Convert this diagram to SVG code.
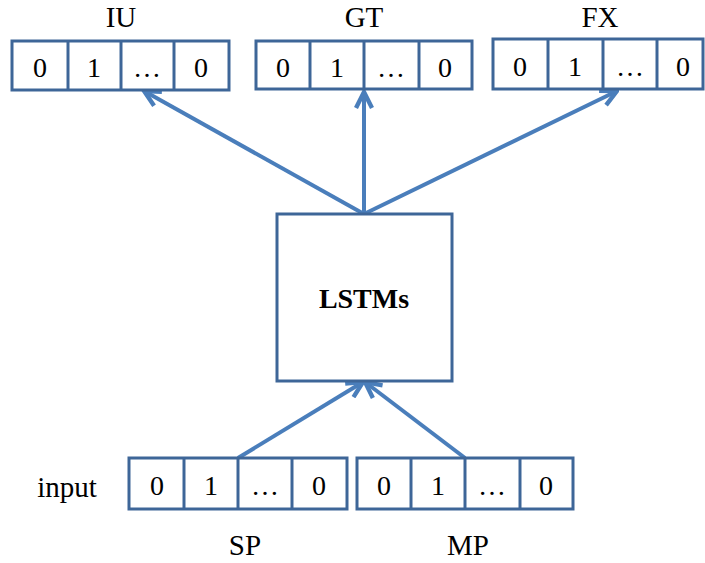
<svg xmlns="http://www.w3.org/2000/svg" width="705" height="563" viewBox="0 0 705 563">
<style>
.box{fill:#fff;stroke:#3e6698;stroke-width:3}
.div{stroke:#3e6698;stroke-width:3}
.t{font-family:"Liberation Serif","Times New Roman",serif;font-size:28px;fill:#000;text-anchor:middle}
.l{font-size:29px}
.c{stroke:#4a7ebb;stroke-width:4;fill:none;marker-end:url(#ah)}
</style>
<defs>
<marker id="ah" viewBox="0 0 10 10" refX="9" refY="5" markerWidth="5" markerHeight="5" orient="auto" markerUnits="strokeWidth">
<path d="M1,1 L9,5 L1,9" fill="none" stroke="#4a7ebb" stroke-width="2.2" stroke-linejoin="miter"/>
</marker>
</defs>
<rect width="705" height="563" fill="#fff"/>
<g id="connectors">
<line class="c" x1="364" y1="214" x2="144" y2="91"/>
<line class="c" x1="364" y1="214" x2="364" y2="92"/>
<line class="c" x1="364" y1="214" x2="617" y2="91"/>
<line class="c" x1="238" y1="458" x2="363" y2="382"/>
<line class="c" x1="465" y1="458" x2="365" y2="382"/>
</g>
<g id="IU">
<text class="t l" x="121" y="27">IU</text>
<rect class="box" x="12" y="41" width="217" height="49"/>
<line class="div" x1="68" y1="41" x2="68" y2="90"/>
<line class="div" x1="121" y1="41" x2="121" y2="90"/>
<line class="div" x1="174" y1="41" x2="174" y2="90"/>
<text class="t" x="40" y="77">0</text>
<text class="t" x="94" y="77">1</text>
<text class="t" x="147" y="77">…</text>
<text class="t" x="201" y="77">0</text>
</g>
<g id="GT">
<text class="t l" x="364" y="27">GT</text>
<rect class="box" x="256" y="41" width="216" height="48"/>
<line class="div" x1="310" y1="41" x2="310" y2="89"/>
<line class="div" x1="364" y1="41" x2="364" y2="89"/>
<line class="div" x1="419" y1="41" x2="419" y2="89"/>
<text class="t" x="283" y="77">0</text>
<text class="t" x="337" y="77">1</text>
<text class="t" x="391" y="77">…</text>
<text class="t" x="445" y="77">0</text>
</g>
<g id="FX">
<text class="t l" x="600" y="27">FX</text>
<rect class="box" x="493" y="39" width="210" height="50"/>
<line class="div" x1="548" y1="39" x2="548" y2="89"/>
<line class="div" x1="603" y1="39" x2="603" y2="89"/>
<line class="div" x1="657" y1="39" x2="657" y2="89"/>
<text class="t" x="520" y="76">0</text>
<text class="t" x="575" y="76">1</text>
<text class="t" x="630" y="76">…</text>
<text class="t" x="683" y="76">0</text>
</g>
<g id="LSTMs">
<rect class="box" x="277" y="214" width="175" height="167"/>
<text class="t" x="364" y="308" font-weight="bold">LSTMs</text>
</g>
<g id="input">
<text class="t l" x="67" y="497">input</text>
</g>
<g id="SP">
<rect class="box" x="129" y="458" width="218" height="51"/>
<line class="div" x1="184" y1="458" x2="184" y2="509"/>
<line class="div" x1="238" y1="458" x2="238" y2="509"/>
<line class="div" x1="292" y1="458" x2="292" y2="509"/>
<text class="t" x="157" y="495">0</text>
<text class="t" x="211" y="495">1</text>
<text class="t" x="265" y="495">…</text>
<text class="t" x="319" y="495">0</text>
<text class="t l" x="245" y="555">SP</text>
</g>
<g id="MP">
<rect class="box" x="357" y="458" width="216" height="51"/>
<line class="div" x1="411" y1="458" x2="411" y2="509"/>
<line class="div" x1="465" y1="458" x2="465" y2="509"/>
<line class="div" x1="520" y1="458" x2="520" y2="509"/>
<text class="t" x="384" y="495">0</text>
<text class="t" x="438" y="495">1</text>
<text class="t" x="492" y="495">…</text>
<text class="t" x="546" y="495">0</text>
<text class="t l" x="468" y="555">MP</text>
</g>
</svg>
